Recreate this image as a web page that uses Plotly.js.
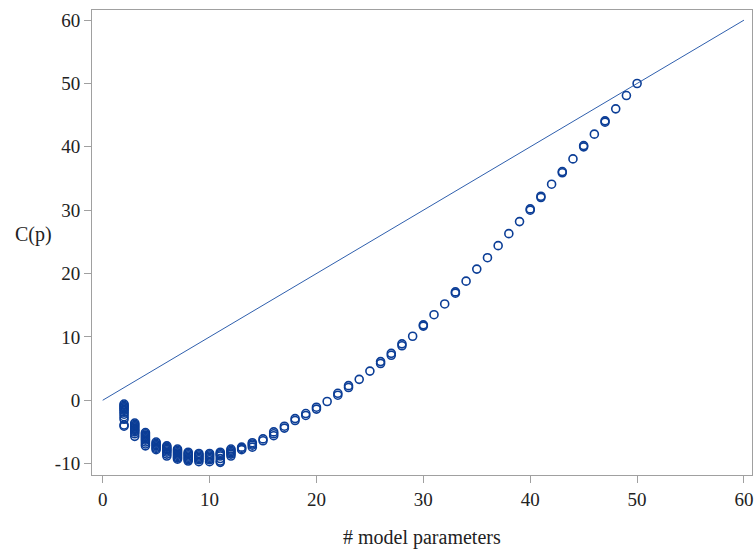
<!DOCTYPE html>
<html>
<head>
<meta charset="utf-8">
<script src="https://cdn.plot.ly/plotly-3.0.1.min.js"></script>
<style>html,body{margin:0;padding:0;background:#fff;}#chart{width:755px;height:550px;}</style>
</head>
<body>
<div id="chart"></div>
<script>
// Cp values of candidate models, grouped by number of model parameters
const cpByP = {
  2: [-0.6, -0.8, -1.0, -1.2, -1.4, -1.6, -1.9, -2.2, -2.6, -3.0, -3.9, -4.1],
  3: [-3.6, -3.8, -4.0, -4.2, -4.4, -4.6, -4.8, -5.0, -5.3, -5.7],
  4: [-5.1, -5.3, -5.5, -5.7, -5.9, -6.1, -6.3, -6.6, -6.9, -7.2],
  5: [-6.6, -6.8, -7.0, -7.2, -7.4, -7.6, -7.8],
  6: [-7.2, -7.4, -7.6, -7.8, -8.0, -8.2, -8.5, -8.8],
  7: [-7.7, -7.9, -8.1, -8.3, -8.5, -8.7, -8.9, -9.1, -9.3],
  8: [-8.2, -8.4, -8.6, -8.8, -9.0, -9.2, -9.4, -9.6],
  9: [-8.4, -8.6, -8.8, -9.0, -9.2, -9.4, -9.7],
  10: [-8.4, -8.6, -8.8, -9.0, -9.2, -9.4, -9.7],
  11: [-8.2, -8.4, -8.6, -8.8, -9.2, -9.6, -9.8],
  12: [-7.7, -7.9, -8.1, -8.3, -8.5, -8.8],
  13: [-7.4, -7.6, -7.8],
  14: [-6.7, -6.9, -7.1, -7.4],
  15: [-6.1, -6.4],
  16: [-5.0, -5.3, -5.6],
  17: [-4.1, -4.4],
  18: [-2.9, -3.2],
  19: [-2.1, -2.4],
  20: [-1.1, -1.4],
  21: [-0.2],
  22: [1.1, 0.8],
  23: [2.3, 2.0],
  24: [3.3],
  25: [4.6],
  26: [6.1, 5.8],
  27: [7.4, 7.1],
  28: [8.9, 8.6],
  29: [10.1],
  30: [11.9, 11.7],
  31: [13.5],
  32: [15.2],
  33: [17.1, 16.9],
  34: [18.8],
  35: [20.7],
  36: [22.5],
  37: [24.4],
  38: [26.3],
  39: [28.2],
  40: [30.2, 30.0],
  41: [32.2, 32.0],
  42: [34.1],
  43: [36.1, 35.9],
  44: [38.1],
  45: [40.2, 40.0],
  46: [42.0],
  47: [44.1, 43.9],
  48: [46.0],
  49: [48.1],
  50: [50.0]
};
const refLineX = [0, 60];
const refLineY = [0, 60];
const xTicks = [0, 10, 20, 30, 40, 50, 60];
const yTicks = [-10, 0, 10, 20, 30, 40, 50, 60];

const px = [], py = [];
Object.keys(cpByP).forEach(k => {
  cpByP[k].forEach(v => { px.push(Number(k)); py.push(v); });
});

const fam = "'Liberation Serif', 'DejaVu Serif', serif";
const tickFont = {family: fam, size: 19, color: '#222'};
const titleFont = {family: fam, size: 20, color: '#222'};
const axisCommon = {
  showgrid: false, zeroline: false, showline: true, mirror: true,
  linecolor: '#a0a0a0', linewidth: 1, ticks: 'outside', tickcolor: '#a0a0a0',
  ticklen: 7, tickwidth: 1, tickfont: tickFont
};

const data = [
  {x: refLineX, y: refLineY, type: 'scatter', mode: 'lines',
   line: {color: '#2f5fad', width: 1}, hoverinfo: 'skip', showlegend: false},
  {x: px, y: py, type: 'scatter', mode: 'markers',
   marker: {symbol: 'circle-open', size: 8, color: '#0b3d96', line: {width: 1.6, color: '#0b3d96'}},
   showlegend: false}
];

const layout = {
  width: 755, height: 550,
  margin: {l: 92, r: 3, t: 10, b: 75},
  paper_bgcolor: '#fff', plot_bgcolor: '#fff',
  font: tickFont,
  xaxis: Object.assign({}, axisCommon, {range: [-1.0, 60.75], tickvals: xTicks, ticktext: xTicks.map(String)}),
  yaxis: Object.assign({}, axisCommon, {range: [-11.8, 61.6], tickvals: yTicks, ticktext: yTicks.map(String)}),
  annotations: [
    {text: 'C(p)', xref: 'paper', yref: 'paper', x: -0.088, y: 0.5, xanchor: 'center', yanchor: 'middle',
     showarrow: false, font: titleFont, yshift: 8},
    {text: '# model parameters', xref: 'paper', yref: 'paper', x: 0.5, y: 0, xanchor: 'center', yanchor: 'middle',
     showarrow: false, font: titleFont, yshift: -62}
  ]
};

Plotly.newPlot('chart', data, layout, {displayModeBar: false, staticPlot: true});
</script>
</body>
</html>
